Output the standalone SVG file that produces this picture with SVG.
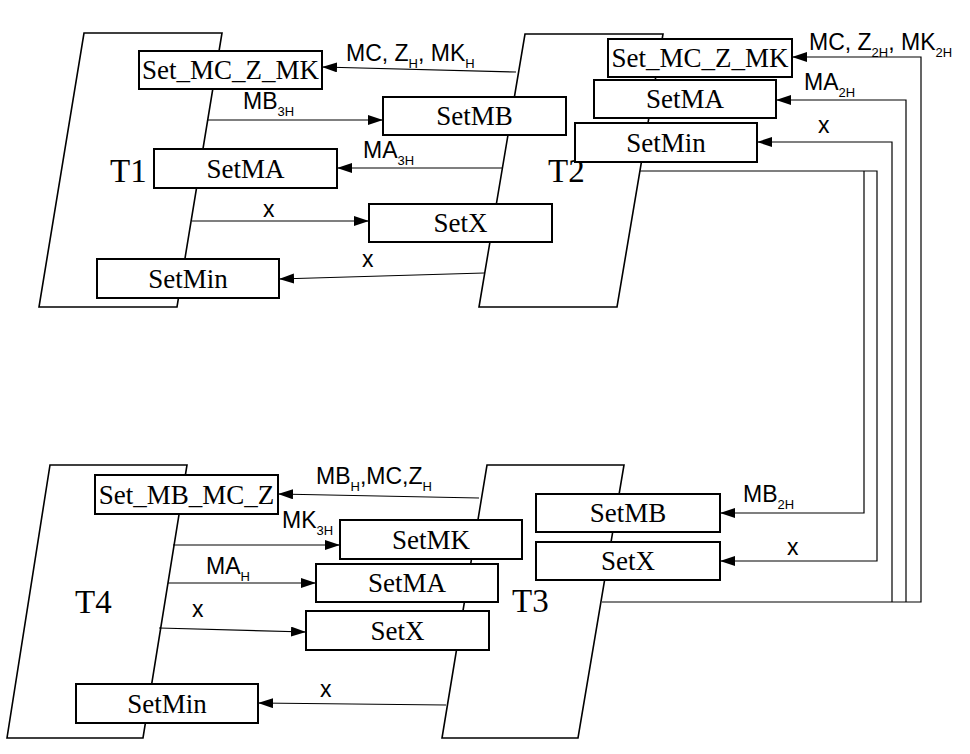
<svg xmlns="http://www.w3.org/2000/svg" width="970" height="754" viewBox="0 0 970 754">
<defs>
<marker id="arr" markerUnits="userSpaceOnUse" markerWidth="16" markerHeight="12" refX="15" refY="5" orient="auto">
<path d="M0,0 L15,5 L0,10 z" fill="#000"/>
</marker>
<style>
.par{fill:#fff;stroke:#000;stroke-width:1.6}
.box{fill:#fff;stroke:#000;stroke-width:2}
.bt{font-family:"Liberation Serif","Times New Roman",serif;font-size:27px;text-anchor:middle;fill:#000}
.tl{font-family:"Liberation Serif","Times New Roman",serif;font-size:33px;fill:#000}
.c{fill:none;stroke:#000;stroke-width:1.2}
.ca{fill:none;stroke:#000;stroke-width:1.2;marker-end:url(#arr)}
.lb{font-family:"Liberation Sans",Arial,sans-serif;font-size:23px;fill:#000}
.sb{font-size:13px}
</style>
</defs>
<rect width="970" height="754" fill="#fff"/>

<g id="T1"><polygon class="par" points="84,33 222,33 177,307 39,307"/><text class="tl" x="110" y="182">T1</text></g>
<g id="T2"><polygon class="par" points="525,34 663,34 617,307 479,307"/><text class="tl" x="548" y="182">T2</text></g>
<g id="T3"><polygon class="par" points="487,465 624,465 578,738 442,738"/><text class="tl" x="512" y="612">T3</text></g>
<g id="T4"><polygon class="par" points="50,465 187,465 143,738 7,738"/><text class="tl" x="75" y="613">T4</text></g>

<g id="connectors">
<line class="ca" x1="516" y1="72" x2="322" y2="67"/>
<line class="ca" x1="208" y1="120" x2="383" y2="120"/>
<line class="ca" x1="502" y1="168" x2="337" y2="168"/>
<line class="ca" x1="192" y1="221" x2="369" y2="221"/>
<line class="ca" x1="484" y1="273" x2="279" y2="279"/>
<path class="ca" d="M602,602 H921 V57 H792"/>
<path class="ca" d="M906,602 V100 H776"/>
<path class="ca" d="M892,602 V142 H757"/>
<path class="ca" d="M640,171 H877 V561 H720"/>
<path class="ca" d="M864,171 V513 H720"/>
<line class="ca" x1="479" y1="498" x2="278" y2="494"/>
<line class="ca" x1="173" y1="545" x2="340" y2="545"/>
<line class="ca" x1="168" y1="583" x2="316" y2="583"/>
<line class="ca" x1="159" y1="628" x2="306" y2="632"/>
<line class="ca" x1="446" y1="705" x2="258" y2="703"/>
<text class="lb" x="346" y="61">MC, Z<tspan class="sb" dy="7">H</tspan><tspan dy="-7">, MK</tspan><tspan class="sb" dy="7">H</tspan></text>
<text class="lb" x="243" y="109">MB<tspan class="sb" dy="7">3H</tspan></text>
<text class="lb" x="363" y="158">MA<tspan class="sb" dy="7">3H</tspan></text>
<text class="lb" x="263" y="217">x</text>
<text class="lb" x="362" y="267">x</text>
<text class="lb" x="809" y="50">MC, Z<tspan class="sb" dy="7">2H</tspan><tspan dy="-7">, MK</tspan><tspan class="sb" dy="7">2H</tspan></text>
<text class="lb" x="804" y="90">MA<tspan class="sb" dy="7">2H</tspan></text>
<text class="lb" x="818" y="133">x</text>
<text class="lb" x="743" y="502">MB<tspan class="sb" dy="7">2H</tspan></text>
<text class="lb" x="787" y="555">x</text>
<text class="lb" x="316" y="484">MB<tspan class="sb" dy="7">H</tspan><tspan dy="-7">,MC,Z</tspan><tspan class="sb" dy="7">H</tspan></text>
<text class="lb" x="282" y="528">MK<tspan class="sb" dy="7">3H</tspan></text>
<text class="lb" x="206" y="574">MA<tspan class="sb" dy="7">H</tspan></text>
<text class="lb" x="192" y="617">x</text>
<text class="lb" x="320" y="697">x</text>
</g>

<g id="T1_SetMCZMK"><rect class="box" x="139" y="51" width="183" height="38"/><text class="bt" x="230.5" y="79">Set_MC_Z_MK</text></g>
<g id="T1_SetMA"><rect class="box" x="154" y="149" width="183" height="39"/><text class="bt" x="245.5" y="178">SetMA</text></g>
<g id="T1_SetMin"><rect class="box" x="97" y="259" width="182" height="39"/><text class="bt" x="188" y="288">SetMin</text></g>
<g id="T2_SetMB"><rect class="box" x="383" y="97" width="183" height="38"/><text class="bt" x="474.5" y="125">SetMB</text></g>
<g id="T2_SetX"><rect class="box" x="369" y="204" width="183" height="38"/><text class="bt" x="460.5" y="232">SetX</text></g>
<g id="T2_SetMCZMK"><rect class="box" x="608" y="39" width="184" height="38"/><text class="bt" x="700" y="67">Set_MC_Z_MK</text></g>
<g id="T2_SetMA"><rect class="box" x="594" y="80" width="182" height="38"/><text class="bt" x="685" y="108">SetMA</text></g>
<g id="T2_SetMin"><rect class="box" x="575" y="123" width="182" height="39"/><text class="bt" x="666" y="152">SetMin</text></g>
<g id="T3_SetMB"><rect class="box" x="536" y="494" width="184" height="38"/><text class="bt" x="628" y="522">SetMB</text></g>
<g id="T3_SetX"><rect class="box" x="536" y="542" width="184" height="38"/><text class="bt" x="628" y="570">SetX</text></g>
<g id="T3_SetMK"><rect class="box" x="340" y="520" width="182" height="39"/><text class="bt" x="431" y="549">SetMK</text></g>
<g id="T3_SetMA"><rect class="box" x="316" y="564" width="182" height="38"/><text class="bt" x="407" y="592">SetMA</text></g>
<g id="T3_SetX2"><rect class="box" x="306" y="611" width="183" height="39"/><text class="bt" x="397.5" y="640">SetX</text></g>
<g id="T4_SetMBMCZ"><rect class="box" x="95" y="475" width="183" height="39"/><text class="bt" x="186.5" y="504">Set_MB_MC_Z</text></g>
<g id="T4_SetMin"><rect class="box" x="76" y="684" width="182" height="39"/><text class="bt" x="167" y="713">SetMin</text></g>
</svg>
